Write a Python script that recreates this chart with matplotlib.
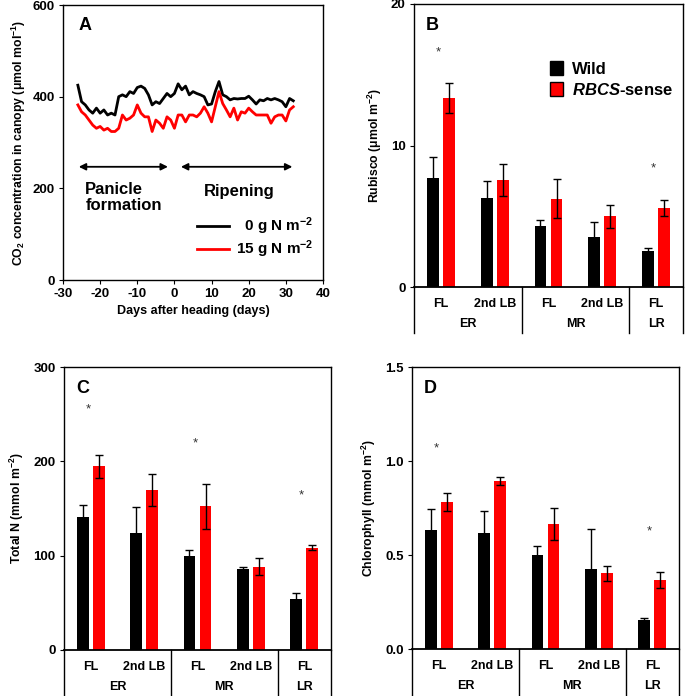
import matplotlib
matplotlib.use("Agg")
import matplotlib.pyplot as plt
from matplotlib.patches import Patch
from matplotlib.lines import Line2D
import numpy as np

plt.rcParams['font.family'] = ['Liberation Sans', 'DejaVu Sans']
plt.rcParams['font.weight'] = 'bold'
plt.rcParams['axes.unicode_minus'] = False
plt.rcParams['mathtext.fontset'] = 'custom'
plt.rcParams['mathtext.rm'] = 'Liberation Sans:bold'
plt.rcParams['mathtext.bf'] = 'Liberation Sans:bold'
plt.rcParams['mathtext.it'] = 'Liberation Sans:italic:bold'
plt.rcParams['mathtext.bfit'] = 'Liberation Sans:italic:bold'
plt.rcParams['mathtext.default'] = 'bf'

# ---------------- Panel A data ----------------
days = list(range(-26, 33))
co2_0N = [425, 389, 382, 371, 364, 375, 364, 371, 360, 364, 360, 400, 404, 400, 411, 407,
          420, 423, 418, 404, 382, 389, 385, 396, 407, 400, 407, 428, 415, 423, 404, 411,
          407, 404, 400, 382, 384, 411, 433, 404, 400, 393, 396, 395, 396, 396, 401, 393,
          384, 393, 391, 396, 393, 396, 393, 389, 378, 396, 391]
co2_15N = [382, 367, 360, 349, 338, 331, 335, 327, 331, 324, 324, 331, 360, 349, 353, 360,
           382, 364, 356, 356, 324, 349, 342, 331, 356, 349, 331, 360, 360, 345, 360, 360,
           356, 364, 378, 364, 345, 378, 411, 385, 371, 356, 375, 349, 367, 364, 375, 367,
           360, 360, 360, 360, 342, 356, 360, 360, 347, 371, 378]

# ---------------- Bar panel data ----------------
leaf_labels = ["FL", "2nd LB", "FL", "2nd LB", "FL"]
stage_labels = ["ER", "MR", "LR"]
stage_spans = [(-0.5, 1.5), (1.5, 3.5), (3.5, 4.5)]

rubisco_wild = [7.67, 6.32, 4.34, 3.54, 2.52]
rubisco_wild_err = [1.55, 1.16, 0.42, 1.06, 0.24]
rubisco_rbcs = [13.37, 7.59, 6.25, 5.00, 5.59]
rubisco_rbcs_err = [1.05, 1.13, 1.37, 0.83, 0.54]
rubisco_stars = {0: 16.6, 4: 8.4}

totaln_wild = [140.8, 124.5, 99.8, 86.3, 53.8]
totaln_wild_err = [13.0, 27.6, 6.0, 2.0, 7.0]
totaln_rbcs = [194.6, 169.4, 152.5, 88.4, 108.6]
totaln_rbcs_err = [12.4, 17.0, 24.0, 8.9, 2.5]
totaln_stars = {0: 254.7, 2: 219.0, 4: 163.4}

chl_wild = [0.633, 0.616, 0.502, 0.428, 0.156]
chl_wild_err = [0.11, 0.12, 0.048, 0.209, 0.01]
chl_rbcs = [0.782, 0.893, 0.665, 0.403, 0.368]
chl_rbcs_err = [0.046, 0.022, 0.083, 0.041, 0.041]
chl_stars = {0: 1.067, 4: 0.624}

W, H = 685, 696
fig = plt.figure(figsize=(W / 100, H / 100), dpi=100)


def make_axes(left, right, top, bottom):
    return fig.add_axes([left / W, 1 - bottom / H, (right - left) / W, (bottom - top) / H])


def style_axes(ax):
    for s in ax.spines.values():
        s.set_linewidth(1.0)
    ax.tick_params(axis='both', direction='out', length=3, width=0.8, labelsize=9.5, pad=3)
    for lab in ax.get_xticklabels() + ax.get_yticklabels():
        lab.set_fontweight('bold')


# ---------------- Panel A ----------------
axA = make_axes(63, 323, 5, 280)
axA.plot(days, co2_0N, color='black', lw=2.0, label=r'  0 g N m$^{-2}$')
axA.plot(days, co2_15N, color='#ff0000', lw=2.0, label=r'15 g N m$^{-2}$')
axA.set_xlim(-30, 40)
axA.set_ylim(0, 600)
axA.set_xticks([-30, -20, -10, 0, 10, 20, 30, 40])
axA.set_yticks([0, 200, 400, 600])
axA.set_xlabel('Days after heading (days)', fontsize=9, fontweight='bold', labelpad=3)
axA.set_ylabel(r'CO$_2$ concentration in canopy (μmol mol$^{-1}$)',
               fontsize=8.8, fontweight='bold', labelpad=3)
style_axes(axA)
axA.text(0.06, 0.955, 'A', transform=axA.transAxes, fontsize=13, fontweight='bold',
         va='top', ha='left')
arrow_kw = dict(arrowstyle='<|-|>', color='black', lw=1.3, mutation_scale=10)
axA.annotate('', xy=(-26.5, 247), xytext=(-1, 247), arrowprops=arrow_kw)
axA.annotate('', xy=(1, 247), xytext=(32.5, 247), arrowprops=arrow_kw)
axA.text(-24, 180, 'Panicle\nformation', fontsize=12, fontweight='bold', ha='left',
         va='center', linespacing=1.0)
axA.text(17.5, 193, 'Ripening', fontsize=12, fontweight='bold', ha='center', va='center')
legA = axA.legend(loc='lower right', bbox_to_anchor=(0.985, 0.05), frameon=False,
                  handlelength=2.1, handletextpad=0.4, labelspacing=0.1,
                  prop={'weight': 'bold', 'size': 11}, borderaxespad=0.0)


# ---------------- Bar panels ----------------
def bar_panel(ax, wild, wild_err, rbcs, rbcs_err, stars, ymax, yticks, ylabel, letter,
              yfmt):
    x = np.arange(len(wild))
    bw = 0.22
    off = 0.15
    ax.bar(x - off, wild, bw, color='black', yerr=wild_err, capsize=3,
           error_kw=dict(ecolor='black', elinewidth=1, capthick=1), zorder=2)
    ax.bar(x + off, rbcs, bw, color='#ff0000', yerr=rbcs_err, capsize=3,
           error_kw=dict(ecolor='black', elinewidth=1, capthick=1), zorder=2)
    for i, yv in stars.items():
        ax.text(x[i] - 0.05, yv, '*', ha='center', va='center', fontsize=9.5,
                fontweight='normal', color='#333333')
    ax.set_xlim(-0.5, 4.5)
    ax.set_ylim(0, ymax)
    ax.set_yticks(yticks)
    ax.set_yticklabels([yfmt.format(v) for v in yticks])
    ax.set_xticks([])
    ax.set_ylabel(ylabel, fontsize=8.8, fontweight='bold', labelpad=5)
    style_axes(ax)
    ax.text(0.045, 0.955, letter, transform=ax.transAxes, fontsize=13, fontweight='bold',
            va='top', ha='left')
    h_ax = ax.get_position().height * H
    r1 = -17 / h_ax
    r2 = -37 / h_ax
    bot = -46 / h_ax
    tr = ax.get_xaxis_transform()
    for i, lab in enumerate(leaf_labels):
        ax.text(x[i], r1, lab, transform=tr, ha='center', va='center', fontsize=9,
                fontweight='bold')
    for (a, b), lab in zip(stage_spans, stage_labels):
        ax.text((a + b) / 2, r2, lab, transform=tr, ha='center', va='center', fontsize=9,
                fontweight='bold')
    for xv in [-0.5, 1.5, 3.5, 4.5]:
        ax.add_line(Line2D([xv, xv], [0, bot], transform=tr, color='black', lw=1.0,
                           clip_on=False))
    ax.spines['bottom'].set_linewidth(1.3)


axB = make_axes(414, 683, 4, 287)
bar_panel(axB, rubisco_wild, rubisco_wild_err, rubisco_rbcs, rubisco_rbcs_err,
          rubisco_stars, 20, [0, 10, 20], r'Rubisco (μmol m$^{-2}$)', 'B', '{:g}')
axB.legend(handles=[Patch(facecolor='black', edgecolor='black', label='Wild'),
                    Patch(facecolor='#ff0000', edgecolor='black',
                          label=r'$\mathbfit{RBCS}$-sense')],
           loc='upper left', bbox_to_anchor=(0.45, 0.85), frameon=False,
           handlelength=0.8, handleheight=0.9, handletextpad=0.5, labelspacing=0.3,
           prop={'weight': 'bold', 'size': 12})

axC = make_axes(64, 331, 367, 650)
bar_panel(axC, totaln_wild, totaln_wild_err, totaln_rbcs, totaln_rbcs_err, totaln_stars,
          300, [0, 100, 200, 300], r'Total N (mmol m$^{-2}$)', 'C', '{:g}')

axD = make_axes(412, 679, 367, 649)
bar_panel(axD, chl_wild, chl_wild_err, chl_rbcs, chl_rbcs_err, chl_stars,
          1.5, [0.0, 0.5, 1.0, 1.5], r'Chlorophyll (mmol m$^{-2}$)', 'D', '{:.1f}')

fig.savefig('out.png', dpi=100)
